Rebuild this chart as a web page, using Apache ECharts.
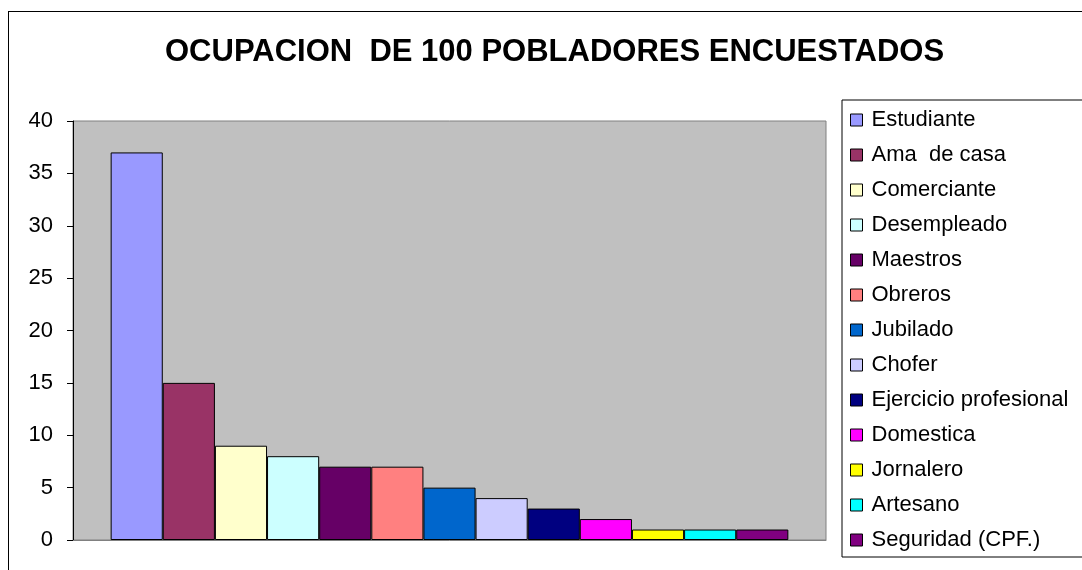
<!DOCTYPE html>
<html>
<head>
<meta charset="utf-8">
<script src="https://cdn.jsdelivr.net/npm/echarts@6/dist/echarts.min.js"></script>
<style>
	html, body { margin: 0; padding: 0; background: #fff; overflow: hidden; }
	#main { width: 1082px; height: 570px; position: relative; }
	#marco { position: absolute; left: 8px; top: 11px; width: 1100px; height: 600px; border: 1px solid #000; }
</style>
</head>
<body>
<div id="main"></div>
<div id="marco"></div>
<script>
	// datos de la encuesta
	var ocupaciones = ['Estudiante', 'Ama  de casa', 'Comerciante', 'Desempleado', 'Maestros', 'Obreros', 'Jubilado',
		'Chofer', 'Ejercicio profesional', 'Domestica', 'Jornalero', 'Artesano', 'Seguridad (CPF.)'];
	var cantidades = [37, 15, 9, 8, 7, 7, 5, 4, 3, 2, 1, 1, 1];
	var colores = ['#9999FF', '#993366', '#FFFFCC', '#CCFFFF', '#660066', '#FF8080', '#0066CC',
		'#CCCCFF', '#000080', '#FF00FF', '#FFFF00', '#00FFFF', '#800080'];
	var ticksY = [0, 5, 10, 15, 20, 25, 30, 35, 40];

	var fuente = 'Arial, "Liberation Sans", sans-serif';
	var chart = echarts.init(document.getElementById('main'));

	var series = [];
	for (var i = 0; i < ocupaciones.length; i++) {
		series.push({
			name: ocupaciones[i],
			type: 'bar',
			data: [cantidades[i]],
			barGap: '0%',
			barCategoryGap: '10%',
			itemStyle: { color: colores[i], borderColor: '#000', borderWidth: 1 }
		});
	}

	var option = {
		animation: false,
		color: colores,
		title: {
			text: 'OCUPACION  DE 100 POBLADORES ENCUESTADOS',
			left: 165,
			top: 37,
			padding: 0,
			textStyle: { fontFamily: fuente, fontSize: 31, fontWeight: 'bold', color: '#000' }
		},
		grid: {
			left: 73, right: 256, top: 121, bottom: 30,
			show: true,
			backgroundColor: '#C0C0C0',
			borderColor: '#808080',
			borderWidth: 1
		},
		legend: {
			orient: 'vertical',
			left: 850,
			top: 109,
			padding: 0,
			itemWidth: 12,
			itemHeight: 12,
			itemGap: 13,
			icon: 'rect',
			itemStyle: { borderColor: '#000', borderWidth: 1 },
			textStyle: { fontFamily: fuente, fontSize: 22, lineHeight: 22, color: '#000', padding: [0, 0, 0, 4] },
			data: ocupaciones
		},
		graphic: [{
			type: 'rect',
			shape: { x: 842, y: 100, width: 300, height: 457 },
			style: { fill: 'none', stroke: '#000', lineWidth: 1 },
			z: 10
		}],
		xAxis: {
			type: 'category',
			data: [''],
			axisLine: { lineStyle: { color: '#808080' } },
			axisTick: { show: false },
			axisLabel: { show: false }
		},
		yAxis: {
			type: 'value',
			min: ticksY[0],
			max: ticksY[ticksY.length - 1],
			interval: 5,
			axisLine: { show: true, lineStyle: { color: '#000' } },
			axisTick: { show: true, length: 6, lineStyle: { color: '#000' } },
			splitLine: { show: false },
			axisLabel: { margin: 20, fontFamily: fuente, fontSize: 22, color: '#000' }
		},
		series: series
	};

	chart.setOption(option);
</script>
</body>
</html>
